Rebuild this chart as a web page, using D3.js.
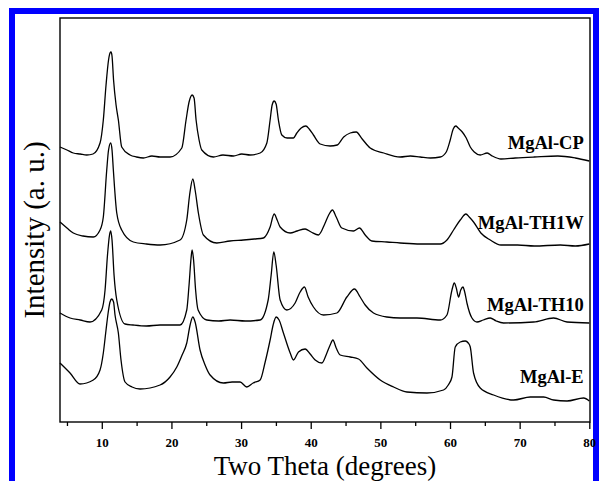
<!DOCTYPE html>
<html>
<head>
<meta charset="utf-8">
<script src="https://cdn.jsdelivr.net/npm/d3@7"></script>
<style>
  body { margin: 0; background: #fff; }
  svg { display: block; }
  text { font-family: "Liberation Serif", "Times New Roman", serif; }
</style>
</head>
<body>
<div id="chart"></div>
<script>
// XRD patterns, [2theta (deg), intensity (a.u., stacked as plotted)]
const mgalCP = [
  [4.00, 275], [5.0, 272], [5.91, 269], [6.9, 268], [7.84, 267], [8.74, 268], [9.75, 279], [10.22, 302], [10.61, 337],
  [10.97, 362], [11.18, 369], [11.33, 370], [11.47, 366], [11.69, 342], [12.05, 317], [12.38, 302],
  [12.86, 275], [14.06, 267], [15.0, 265], [15.97, 264], [17.2, 266], [18.37, 265], [19.80, 265], [21.49, 274], [22.10, 302],
  [22.53, 320], [22.97, 327], [23.25, 324], [23.54, 302], [23.97, 282], [24.36, 272], [26.03, 265],
  [27.4, 267], [28.90, 266], [30.1, 268], [31.30, 267], [32.74, 269], [33.70, 279], [34.17, 302], [34.46, 317], [34.75, 321],
  [35.03, 318], [35.36, 302], [35.85, 287], [36.61, 284], [37.52, 284], [38.01, 289], [38.63, 294],
  [39.30, 296], [39.78, 293], [40.39, 287], [41.36, 278], [42.79, 276], [43.80, 277], [44.73, 285],
  [45.67, 289], [46.53, 290], [47.39, 283], [48.54, 274], [50.49, 269], [52.85, 265], [54.3, 266], [55.72, 265],
  [57.2, 264], [58.60, 265], [59.46, 270], [60.03, 282], [60.46, 293], [60.82, 296], [61.18, 294], [61.76, 290],
  [62.33, 284], [62.91, 275], [63.48, 270], [64.34, 267], [65.34, 269], [66.07, 266], [67.32, 263],
  [69.37, 264], [72.10, 265], [75.48, 266], [77.99, 264], [80.00, 261]
];
const mgalTH1W = [
  [4.00, 200], [5.0, 194], [5.91, 189], [7.3, 186], [8.78, 185], [9.75, 192], [10.22, 205], [10.71, 252], [10.97, 272],
  [11.28, 279], [11.47, 272], [11.66, 252], [12.15, 209], [12.86, 192], [14.53, 180], [16.4, 178], [18.37, 177],
  [21.24, 182], [22.20, 202], [22.61, 227], [23.07, 243], [23.40, 232], [23.87, 209], [24.59, 187],
  [26.51, 179], [28.4, 181], [30.34, 182], [31.9, 183], [33.21, 184], [34.17, 195], [34.75, 208], [35.18, 202], [35.61, 195],
  [37.05, 189], [38.05, 191], [39.20, 193], [40.06, 190], [41.11, 187], [42.07, 199], [42.58, 207],
  [43.12, 212], [43.66, 205], [44.47, 194], [46.14, 191], [47.00, 194], [47.82, 187], [48.78, 181],
  [50.94, 180], [52.85, 179], [55.72, 178], [58.60, 178], [59.56, 182], [60.51, 192], [61.47, 202],
  [62.29, 208], [62.76, 205], [63.38, 200], [64.43, 189], [65.78, 182], [67.32, 177], [69.7, 177], [72.10, 176],
  [75.84, 177], [78.0, 176], [80.00, 178]
];
const mgalTH10 = [
  [4.00, 109], [5.44, 104], [6.9, 102], [8.31, 100], [9.99, 112], [10.47, 132], [10.82, 167], [11.11, 187],
  [11.28, 191], [11.47, 182], [11.76, 147], [12.15, 122], [13.34, 98], [14.49, 97], [16.4, 96], [18.37, 97],
  [21.24, 97], [22.20, 112], [22.53, 137], [22.82, 164], [22.97, 172], [23.18, 162], [23.47, 132],
  [23.83, 112], [25.08, 102], [26.8, 101], [28.43, 102], [30.6, 101], [32.74, 102], [33.89, 122], [34.32, 147], [34.70, 170],
  [35.03, 157], [35.61, 122], [36.57, 112], [37.76, 119], [38.48, 130], [39.10, 135], [39.63, 125],
  [40.39, 115], [41.83, 107], [43.76, 109], [45.19, 125], [46.28, 133], [47.10, 125], [47.82, 117],
  [49.01, 109], [50.94, 105], [52.85, 104], [55.25, 104], [58.60, 102], [59.56, 107], [60.28, 132],
  [60.61, 139], [60.90, 134], [61.23, 125], [61.54, 132], [61.86, 135], [62.11, 130], [62.43, 119],
  [63.15, 104], [63.87, 100], [64.78, 102], [65.78, 104], [66.64, 101], [67.69, 99], [72.00, 100],
  [74.87, 104], [76.80, 100], [80.00, 99]
];
const mgalE = [
  [4.00, 59], [5.44, 49], [6.87, 38], [8.78, 42], [9.75, 52], [10.22, 69], [10.61, 92], [10.97, 112],
  [11.18, 120], [11.43, 123], [11.69, 120], [11.90, 107], [12.38, 89], [12.76, 62], [13.34, 40],
  [14.34, 35], [15.49, 33], [18.37, 37], [19.80, 45], [20.77, 55], [21.53, 67], [22.20, 79],
  [22.68, 97], [23.07, 105], [23.40, 100], [24.11, 72], [24.83, 57], [25.55, 47], [27.46, 39],
  [28.71, 40], [29.86, 40], [30.82, 35], [31.73, 39], [32.74, 42], [33.46, 60], [34.17, 82],
  [34.60, 97], [35.03, 105], [35.46, 102], [36.08, 89], [37.05, 69], [37.52, 62], [38.24, 70],
  [39.20, 73], [39.92, 68], [40.64, 62], [41.60, 59], [42.32, 69], [42.79, 77], [43.18, 82],
  [43.66, 74], [44.23, 67], [45.67, 65], [46.86, 63], [48.07, 54], [49.98, 42], [51.89, 35],
  [53.81, 30], [56.69, 29], [59.07, 32], [59.75, 37], [60.28, 45], [60.75, 75], [61.47, 80],
  [62.19, 81], [62.62, 79], [62.91, 75], [63.38, 49], [64.34, 34], [66.26, 27], [69.13, 22],
  [71.53, 25], [73.44, 25], [74.88, 22], [76.80, 21], [79.19, 24], [80.00, 21]
];

const sampleNames = ["MgAl-CP", "MgAl-TH1W", "MgAl-TH10", "MgAl-E"];
const patterns = [mgalCP, mgalTH1W, mgalTH10, mgalE];
const majorTicks = [10, 20, 30, 40, 50, 60, 70, 80];
const minorTicks = [5, 15, 25, 35, 45, 55, 65, 75];

const W = 599, H = 481;
const margin = { top: 18, right: 9, bottom: 59, left: 60 };
const serif = "Liberation Serif, Times New Roman, serif";

const svg = d3.select("#chart").append("svg")
  .attr("width", W)
  .attr("height", H);

// blue frame of the figure
svg.append("rect")
  .attr("x", 12).attr("y", 11)
  .attr("width", 584).attr("height", 480)
  .attr("fill", "none")
  .attr("stroke", "#0000ff")
  .attr("stroke-width", 6);

const x = d3.scaleLinear()
  .domain([4, 80.1])
  .range([margin.left, W - margin.right]);

const y = d3.scaleLinear()
  .domain([0, 404])
  .range([H - margin.bottom, margin.top]);

const line = d3.line()
  .curve(d3.curveMonotoneX)
  .x(d => x(d[0]))
  .y(d => y(d[1]));

svg.append("g")
  .selectAll("path")
  .data(patterns)
  .join("path")
  .attr("d", line)
  .attr("fill", "none")
  .attr("stroke", "#000")
  .attr("stroke-width", 1.3)
  .attr("stroke-linejoin", "round");

// sample labels, right aligned beside each trace
const labelLevel = [273, 193, 111, 39];
svg.append("g")
  .selectAll("text")
  .data(sampleNames)
  .join("text")
  .attr("x", x(79.2))
  .attr("y", (d, i) => y(labelLevel[i]))
  .attr("text-anchor", "end")
  .attr("font-family", serif)
  .attr("font-size", 18.5)
  .attr("font-weight", "bold")
  .text(d => d);

// bottom axis
const xAxis = svg.append("g")
  .attr("transform", `translate(0,${y(0)})`)
  .call(d3.axisBottom(x).tickValues(majorTicks).tickSize(7).tickPadding(9).tickFormat(d3.format("d")));
xAxis.select(".domain").remove();
xAxis.selectAll("text")
  .attr("font-family", serif)
  .attr("font-size", 13)
  .attr("font-weight", "bold")
  .attr("fill", "#000");

svg.append("g")
  .attr("transform", `translate(0,${y(0)})`)
  .call(d3.axisBottom(x).tickValues(minorTicks).tickSize(4).tickFormat(""))
  .select(".domain").remove();

svg.selectAll(".tick line").attr("stroke", "#000").attr("stroke-width", 1.3);

// plot frame
svg.append("rect")
  .attr("x", x.range()[0]).attr("y", y.range()[1])
  .attr("width", x.range()[1] - x.range()[0])
  .attr("height", y.range()[0] - y.range()[1])
  .attr("fill", "none")
  .attr("stroke", "#000")
  .attr("stroke-width", 1.4);

svg.append("text")
  .attr("x", (x.range()[0] + x.range()[1]) / 2)
  .attr("y", 475)
  .attr("text-anchor", "middle")
  .attr("font-family", serif)
  .attr("font-size", 27)
  .text("Two Theta (degrees)");

svg.append("text")
  .attr("transform", `translate(44,230) rotate(-90)`)
  .attr("text-anchor", "middle")
  .attr("font-family", serif)
  .attr("font-size", 29)
  .text("Intensity (a. u.)");
</script>
</body>
</html>
